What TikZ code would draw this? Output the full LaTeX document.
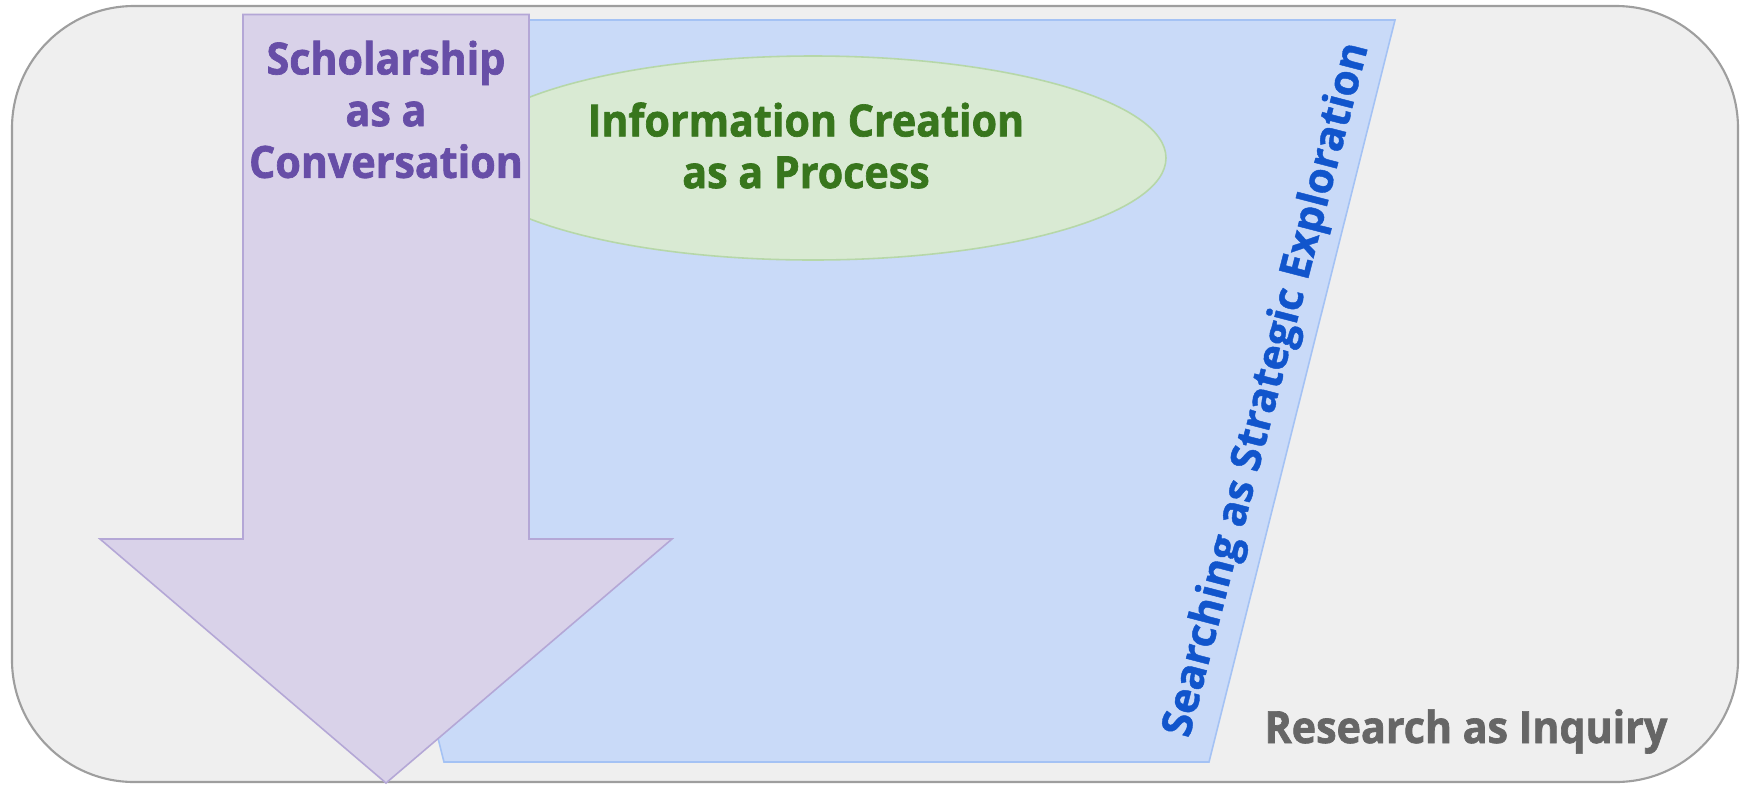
\documentclass[tikz,border=0pt]{standalone}
\usepackage{fontspec}
\setmainfont{Open Sans}
\newfontfamily\condfont[FakeStretch=0.93,FakeBold=1.5]{Open Sans}
\newfontfamily\rotfont[FakeBold=1]{Open Sans}
\definecolor{bgfill}{HTML}{EFEFEF}
\definecolor{bgline}{HTML}{9E9E9E}
\definecolor{bluefill}{HTML}{C9DAF8}
\definecolor{blueline}{HTML}{A4C2F4}
\definecolor{bluetext}{HTML}{1155CC}
\definecolor{greenfill}{HTML}{D9EAD3}
\definecolor{greenline}{HTML}{B6D7A8}
\definecolor{greentext}{HTML}{38761D}
\definecolor{purplefill}{HTML}{D9D2E9}
\definecolor{purpleline}{HTML}{B4A7D6}
\definecolor{purpletext}{HTML}{674EA7}
\definecolor{graytext}{HTML}{666666}
\tikzset{
  bgbox/.style={fill=bgfill,draw=bgline,line width=0.6pt,rounded corners=1.22cm},
  bluebox/.style={fill=bluefill,draw=blueline,line width=0.45pt},
  greenbox/.style={fill=greenfill,draw=greenline,line width=0.45pt},
  purplebox/.style={fill=purplefill,draw=purpleline,line width=0.45pt},
  condlabel/.style={font=\condfont\bfseries\fontsize{12.6}{14.7}\selectfont,align=center,inner sep=0pt},
}
\begin{document}
\begin{tikzpicture}[x=0.01cm,y=-0.01cm]
\useasboundingbox (0,0) rectangle (1747,784);
\draw[bgbox] (12,6) rectangle (1738,782);
\draw[bluebox] (258,20) -- (1395,20) -- (1209,762) -- (444,762) -- cycle;
\draw[greenbox] (813,158) ellipse [x radius=353, y radius=102];
\node[condlabel,text=greentext] (info) at (806,145.5) {Information Creation\\as a Process};
\draw[purplebox] (243,14.5) -- (529,14.5) -- (529,539) -- (672,539) -- (386,783) -- (100,539) -- (243,539) -- cycle;
\node[condlabel,text=purpletext] (schol) at (386,109.5) {Scholarship\\as a\\Conversation};
\node[font=\rotfont\bfseries\fontsize{12}{14}\selectfont,text=bluetext,rotate=75.5,inner sep=0pt] (search) at (1268,390) {Searching as Strategic Exploration};
\node[condlabel,text=graytext,anchor=base] (research) at (1466,743) {Research as Inquiry};
\end{tikzpicture}
\end{document}
